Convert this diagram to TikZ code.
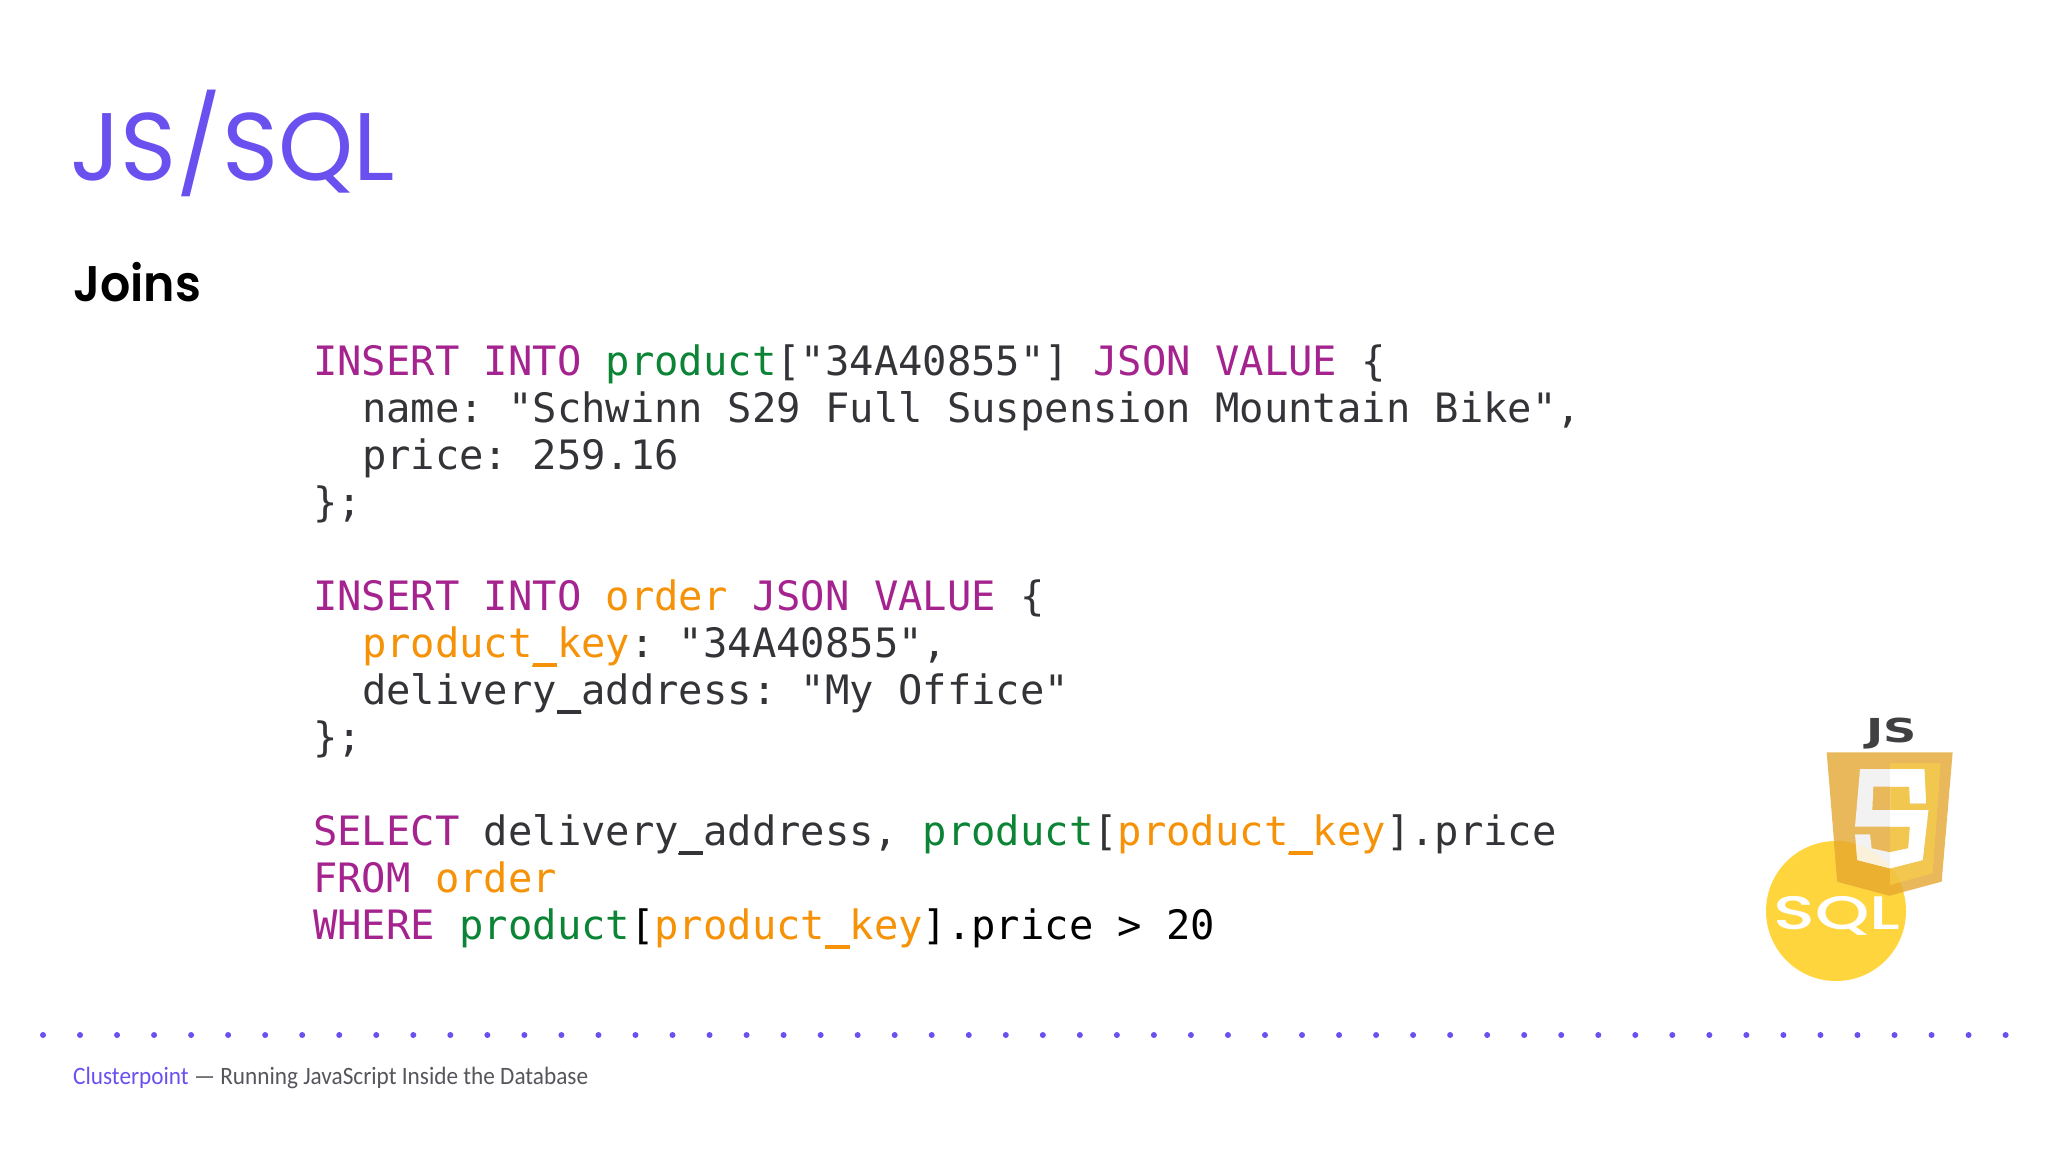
\documentclass[tikz,border=0pt]{standalone}
\usepackage{fontspec}
\setmainfont{Lato}
\newfontfamily\codefont{DejaVu Sans Mono}
\newfontfamily\titlefont{Poppins}
\newfontfamily\headfont{Poppins SemiBold}
\newfontfamily\footfont{Carlito}
\newfontfamily\logofont{DejaVu Sans Bold}
\newfontfamily\sqlfont{Poppins Medium}
\definecolor{slidepurple}{HTML}{6A50EE}
\definecolor{codedark}{HTML}{333338}
\definecolor{sqlkw}{HTML}{A5238E}
\definecolor{sqltbl}{HTML}{0B8436}
\definecolor{sqlkey}{HTML}{F59208}
\definecolor{footgray}{HTML}{55555C}
\definecolor{sqlyellow}{HTML}{FFD53E}
\definecolor{shieldcol}{HTML}{E8B85A}
\definecolor{shieldover}{HTML}{EBB02F}
\definecolor{shieldlight}{HTML}{F8D24A}
\definecolor{jsdark}{HTML}{404042}
\newcommand{\kw}[1]{\textcolor{sqlkw}{#1}}
\newcommand{\tblname}[1]{\textcolor{sqltbl}{#1}}
\newcommand{\keyname}[1]{\textcolor{sqlkey}{#1}}
\newcommand{\us}{\rlap{\rule[-0.24em]{0.602em}{0.085em}}\_}
\newcommand{\shieldpath}{(20,22) -- (398,22) -- (365,410) -- (208,452) -- (52,410) -- cycle}
\newcommand{\fivepath}{(120,72) -- (313,72) -- (318,175) -- (270,175) -- (268,125) -- (160,125) -- (157,195) -- (325,195) -- (308,345) -- (210,370) -- (112,345) -- (105,268) -- (150,268) -- (155,310) -- (210,322) -- (265,310) -- (270,245) -- (105,245) -- cycle}
\tikzset{
  codeline/.style={anchor=base west,inner sep=0pt,text=codedark,
    font=\codefont\fontsize{40.5}{47}\selectfont\frenchspacing},
}
\begin{document}
\begin{tikzpicture}[x=1pt,y=-1pt]
        \useasboundingbox (0,0) rectangle (2048,1152);

        % heading
        \node[anchor=base west,inner sep=0pt,text=slidepurple,font=\titlefont\fontsize{96}{96}\selectfont,xscale=0.995,transform shape] (title) at (70,180) {JS/SQL};
        \node[anchor=base west,inner sep=0pt,text=black,font=\headfont\fontsize{50}{50}\selectfont,xscale=0.95,transform shape] (joins) at (73,301) {Joins};

        % code
        \node[codeline] (ln1) at (313,375) {\kw{INSERT INTO} \tblname{product}["34A40855"] \kw{JSON VALUE} \{};
        \node[codeline] (ln2) at (361.8,422) {name: "Schwinn S29 Full Suspension Mountain Bike",};
        \node[codeline] (ln3) at (361.8,469) {price: 259.16};
        \node[codeline] (ln4) at (313,516) {\};};
        \node[codeline] (ln5) at (313,610) {\kw{INSERT INTO} \keyname{order} \kw{JSON VALUE} \{};
        \node[codeline] (ln6) at (361.8,657) {\keyname{product\us key}: "34A40855",};
        \node[codeline] (ln7) at (361.8,704) {delivery\us address: "My Office"};
        \node[codeline] (ln8) at (313,751) {\};};
        \node[codeline] (ln9) at (313,845) {\kw{SELECT} delivery\us address, \tblname{product}[\keyname{product\us key}].price};
        \node[codeline] (ln10) at (313,892) {\kw{FROM} \keyname{order}};
        \node[codeline,text=black] (ln11) at (313,939) {\kw{WHERE} \tblname{product}[\keyname{product\us key}].price > 20};

        % logo
        \fill[sqlyellow] (1836,911) circle (70);
        \begin{scope}[shift={(1820,745)},x=0.3333pt,y=-0.3333pt]
            \fill[shieldcol] \shieldpath;
            \begin{scope}
                \clip \shieldpath;
                \fill[shieldover] (48,498) circle (210);
            \end{scope}
            \fill[shieldlight,opacity=0.6] (210,55) -- (362,55) -- (338,385) -- (210,420) -- cycle;
            \fill[white!95!black] \fivepath;
            \begin{scope}
                \clip (48,498) circle (210);
                \fill[shieldover!18!white] \fivepath;
            \end{scope}
            \fill[white] (210,72) -- (313,72) -- (318,175) -- (270,175) -- (268,125) -- (210,125) -- (210,195) -- (325,195) -- (308,345) -- (210,370) -- (210,322) -- (265,310) -- (270,245) -- (210,245) -- cycle;
        \end{scope}
        \node[anchor=base,inner sep=0pt,text=jsdark,font=\logofont\fontsize{33}{33}\selectfont,xscale=1.4,transform shape] (jslogo) at (1892,742) {JS};
        \node[anchor=base,inner sep=0pt,text=white,font=\sqlfont\fontsize{47}{47}\selectfont,xscale=1.47,transform shape] (sqllogo) at (1837,929) {SQL};

        % dotted rule
        \foreach \x in {0,...,53} {
            \fill[slidepurple] (43+37.03*\x,1035) circle (3);
        }

        % footer
        \node[anchor=base west,inner sep=0pt,text=footgray,font=\footfont\fontsize{25}{25}\selectfont,xscale=0.93,transform shape] (foot) at (73,1084) {\textcolor{slidepurple}{Clusterpoint} — Running JavaScript Inside the Database};

\end{tikzpicture}
\end{document}
